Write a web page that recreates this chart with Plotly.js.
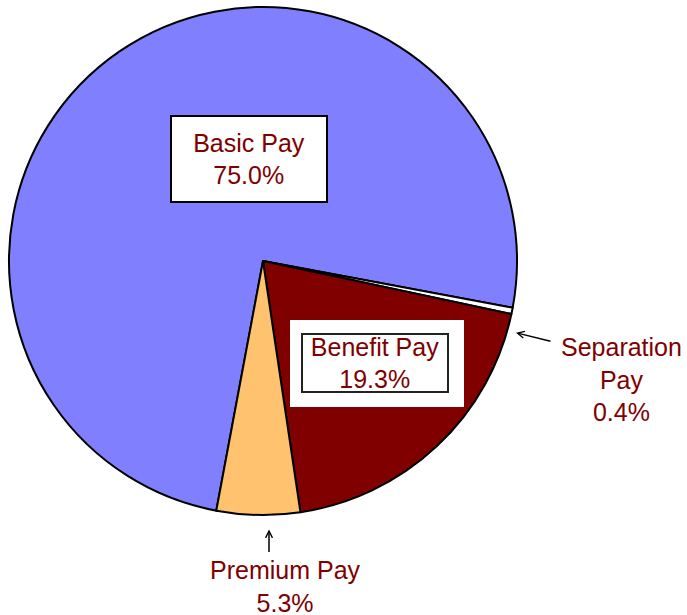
<!DOCTYPE html>
<html>
<head>
<meta charset="utf-8">
<script src="https://cdn.plot.ly/plotly-3.0.1.min.js"></script>
<style>html,body{margin:0;padding:0;background:#fff;}#chart{width:687px;height:615px;}</style>
</head>
<body>
<div id="chart"></div>
<script>
var categories = ["Basic Pay", "Separation Pay", "Benefit Pay", "Premium Pay"];
var values = [75.0, 0.4, 19.3, 5.3];
var sliceColors = ["#8080FF", "#FFFFFF", "#800000", "#FFC26F"];
var labelTexts = ["Basic Pay<br>75.0%", "Separation<br>Pay<br>0.4%", "Benefit Pay<br>19.3%", "Premium Pay<br>5.3%"];

var W = 687, H = 615;
function px(x) { return x / W; }
function py(y) { return 1 - y / H; }

var textColor = "#800000";
var fontFamily = "Liberation Sans, Arial, sans-serif";

var trace = {
  type: "pie",
  labels: categories,
  values: values,
  sort: false,
  direction: "clockwise",
  rotation: 190.6,
  marker: { colors: sliceColors, line: { color: "#000000", width: 2 } },
  textinfo: "none",
  hoverinfo: "skip",
  domain: { x: [px(9), px(517)], y: [py(515), py(7)] }
};

var layout = {
  width: W, height: H,
  margin: { l: 0, r: 0, t: 0, b: 0, pad: 0 },
  paper_bgcolor: "#ffffff",
  showlegend: false,
  hovermode: false,
  shapes: [
    { type: "rect", xref: "paper", yref: "paper",
      x0: px(290), x1: px(464), y0: py(407), y1: py(320),
      fillcolor: "#ffffff", line: { width: 0 }, layer: "above" }
  ],
  annotations: [
    { xref: "paper", yref: "paper", x: px(249), y: py(159), xanchor: "center", yanchor: "middle",
      text: labelTexts[0], showarrow: false, font: { family: fontFamily, size: 25, color: textColor },
      bgcolor: "#ffffff", bordercolor: "#000000", borderwidth: 2, borderpad: 0, width: 154, height: 84 },
    { xref: "paper", yref: "paper", x: px(375), y: py(363), xanchor: "center", yanchor: "middle",
      text: labelTexts[2], showarrow: false, font: { family: fontFamily, size: 25, color: textColor },
      bgcolor: "#ffffff", bordercolor: "#222222", borderwidth: 2, borderpad: 0, width: 144, height: 56 },
    { xref: "paper", yref: "paper", x: px(621.5), y: py(379), xanchor: "center", yanchor: "middle",
      text: labelTexts[1], showarrow: false, font: { family: fontFamily, size: 25, color: textColor } },
    { xref: "paper", yref: "paper", x: px(285), y: py(586), xanchor: "center", yanchor: "middle",
      text: labelTexts[3], showarrow: false, font: { family: fontFamily, size: 25, color: textColor } },
    { xref: "paper", yref: "paper", x: px(516), y: py(332.7), text: "", showarrow: true,
      ax: 36, ay: 9, arrowhead: 5, arrowsize: 0.9, arrowwidth: 1.5, arrowcolor: "#000000", standoff: 0 },
    { xref: "paper", yref: "paper", x: px(269), y: py(529.5), text: "", showarrow: true,
      ax: 0, ay: 24, arrowhead: 5, arrowsize: 0.9, arrowwidth: 1.5, arrowcolor: "#000000", standoff: 0 }
  ]
};

Plotly.newPlot("chart", [trace], layout, { staticPlot: true, displayModeBar: false });
</script>
</body>
</html>
